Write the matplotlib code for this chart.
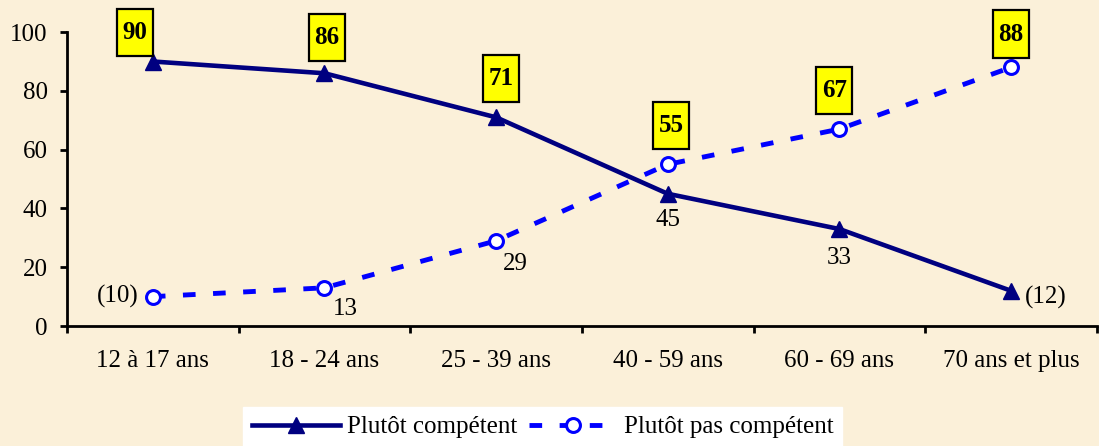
import matplotlib.pyplot as plt
import numpy as np

# données
categories = ["12 à 17 ans", "18 - 24 ans", "25 - 39 ans", "40 - 59 ans",
              "60 - 69 ans", "70 ans et plus"]
competent = [90, 86, 71, 45, 33, 12]
pas_competent = [10, 13, 29, 55, 67, 88]

plt.rcParams["font.family"] = ["Liberation Serif", "DejaVu Serif"]

fig = plt.figure(figsize=(10.99, 4.46), dpi=100)
fig.patch.set_facecolor("#FBF0D9")
ax = fig.add_axes([0.061, 0.269, 0.937, 0.659])
ax.set_facecolor("#FBF0D9")

x = np.arange(len(categories))

ax.plot(x, competent, color="#000080", lw=3.3, marker="^", ms=11,
        label="Plutôt compétent", zorder=3)
ax.plot(x, pas_competent, color="#0000FF", lw=3.5, ls=(0, (2.6, 3.6)),
        marker="o", ms=10, mfc="white", mec="#0000FF", mew=2.2,
        label="Plutôt pas compétent", zorder=3)

ax.set_xlim(-0.5, len(categories) - 0.5)
ax.set_ylim(0, 100)
ax.set_yticks(range(0, 101, 20))
ax.set_xticks(x)
ax.set_xticklabels(categories, fontsize=18)
ax.tick_params(axis="x", length=0, pad=17)
ax.set_xticks(np.arange(-0.5, len(categories), 1), minor=True)
ax.tick_params(axis="x", which="minor", length=5, width=2, direction="out")
ax.tick_params(axis="y", length=5, width=2, labelsize=18, pad=9,
               direction="out")

for s in ["top", "right"]:
    ax.spines[s].set_visible(False)
for s in ["left", "bottom"]:
    ax.spines[s].set_linewidth(2)

# étiquettes : valeur haute dans une boîte jaune, valeur basse en texte simple
box = dict(boxstyle="square,pad=0.22", mutation_aspect=2.2,
           fc="#FFFF00", ec="black", lw=1.6)
box_offsets = [(-13, 21), (1.5, 26), (3.6, 28), (2.5, 28), (-3.6, 28), (0, 24)]
low_labels = ["(10)", "13", "29", "45", "33", "(12)"]
low_offsets = [(-25, 0), (15, -15), (14, -17), (0, -19), (0, -21), (25, -5)]

for i in range(len(categories)):
    hi = max(competent[i], pas_competent[i])
    lo = min(competent[i], pas_competent[i])
    ax.annotate(str(hi), (x[i], hi), xytext=box_offsets[i],
                textcoords="offset points", ha="center", va="center",
                fontsize=18, fontweight="bold", bbox=box, zorder=5)
    ax.annotate(low_labels[i], (x[i], lo), xytext=low_offsets[i],
                textcoords="offset points", ha="center", va="center",
                fontsize=18, zorder=5)

leg = fig.legend(loc="upper center", bbox_to_anchor=(0.494, 0.087), ncol=2,
                 fontsize=18, frameon=True, fancybox=False, handlelength=3.5,
                 columnspacing=0.5, handletextpad=0.28, borderpad=0.35,
                 borderaxespad=0)
leg.get_frame().set_facecolor("white")
leg.get_frame().set_edgecolor("white")
leg.get_frame().set_alpha(1)

fig.savefig("out.png", dpi=100, facecolor=fig.get_facecolor())
